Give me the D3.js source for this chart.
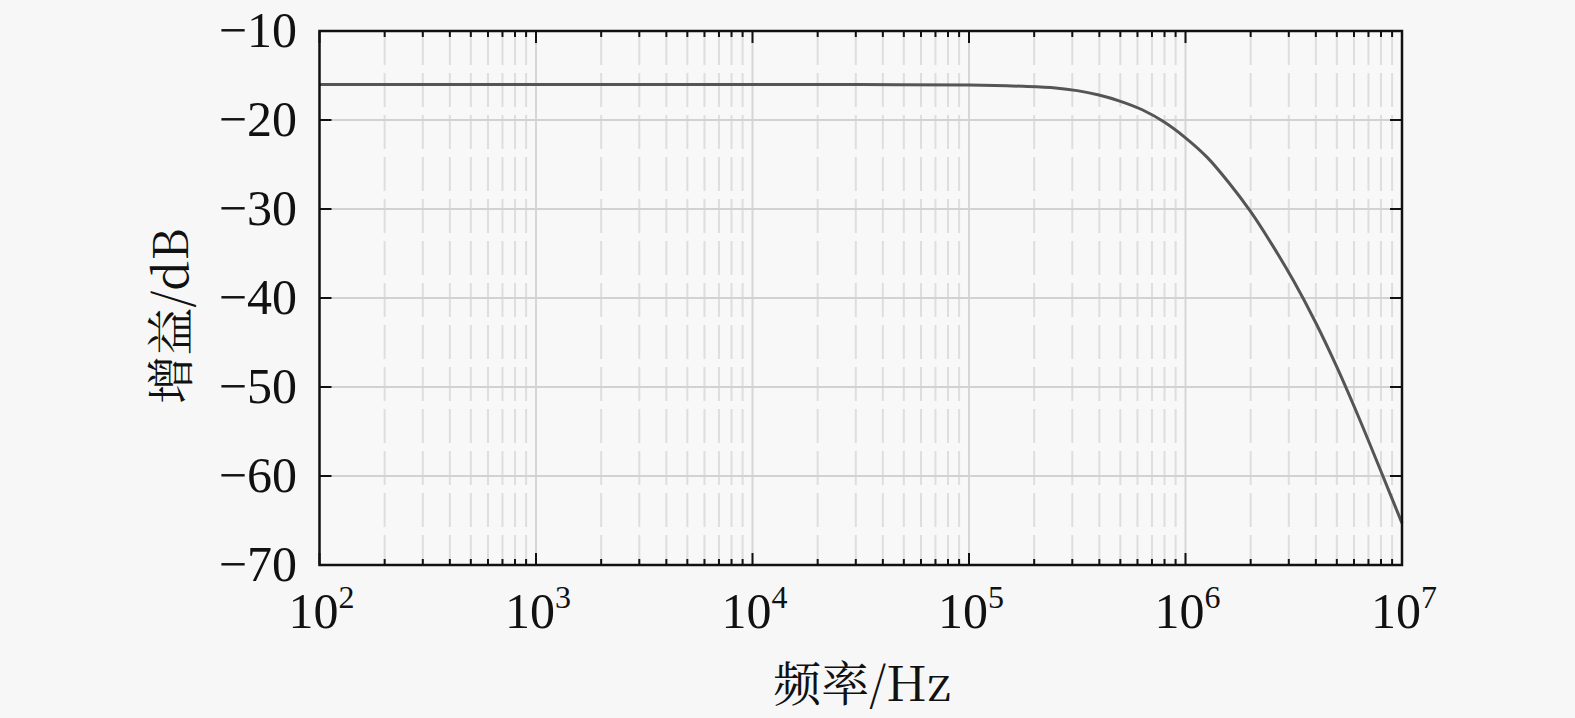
<!DOCTYPE html>
<html><head><meta charset="utf-8">
<script src="https://cdn.jsdelivr.net/npm/d3@7"></script>
<style>
html,body{margin:0;padding:0;background:#f7f7f7;}
svg{display:block;}
</style></head>
<body>
<svg id="chart" width="1575" height="718"></svg>
<script>
// ---- data ----
const freqs = [1e2, 1e3, 1e4, 3.16e4, 1e5, 1.78e5, 2.51e5, 3.16e5, 3.98e5, 5.01e5, 6.31e5, 7.94e5,
               1e6, 1.26e6, 1.58e6, 2e6, 2.51e6, 3.16e6, 3.98e6, 5.01e6, 6.31e6, 7.94e6, 1e7];
const gains = [-16.0, -16.0, -16.0, -16.02, -16.07, -16.22, -16.4, -16.7, -17.2, -17.9, -18.85, -20.2,
               -22.0, -24.2, -27.0, -30.3, -34.0, -38.1, -42.7, -47.8, -53.4, -59.3, -65.3];
const yTicks = [-10, -20, -30, -40, -50, -60, -70];
const xDecades = [1e2, 1e3, 1e4, 1e5, 1e6, 1e7];
const xTickExponents = ["2", "3", "4", "5", "6", "7"];
const xTitle = "频率/Hz";
const yTitle = "增益/dB";

// ---- layout ----
const m = {left: 319.5, right: 1402, top: 31, bottom: 565};
const svg = d3.select("#chart");
const x = d3.scaleLog().domain([1e2, 1e7]).range([m.left, m.right]);
const y = d3.scaleLinear().domain([-70, -10]).range([m.bottom, m.top]);

const minor = [];
for (let d = 0; d < xDecades.length - 1; d++)
  for (let k = 2; k <= 9; k++) minor.push(xDecades[d] * k);

const fontNum = "'Liberation Serif','Times New Roman',serif";
const fontCJK = "'Noto Serif CJK SC','Noto Sans CJK SC','Liberation Serif',serif";

const g = svg.append("g");
g.append("rect").attr("x", m.left).attr("y", m.top)
  .attr("width", m.right - m.left).attr("height", m.bottom - m.top).attr("fill", "#f8f8f8");

// minor vertical grid (dashed)
g.selectAll(".vminor").data(minor).enter().append("line")
  .attr("x1", d => x(d)).attr("x2", d => x(d)).attr("y1", m.top).attr("y2", m.bottom)
  .attr("stroke", "#dedede").attr("stroke-width", 2).attr("stroke-dasharray", "34,8");
// major vertical grid
g.selectAll(".vmajor").data(xDecades.slice(1, -1)).enter().append("line")
  .attr("x1", d => x(d)).attr("x2", d => x(d)).attr("y1", m.top).attr("y2", m.bottom)
  .attr("stroke", "#d6d6d6").attr("stroke-width", 2);
// horizontal grid
g.selectAll(".hgrid").data(yTicks.slice(1, -1)).enter().append("line")
  .attr("x1", m.left).attr("x2", m.right).attr("y1", d => y(d)).attr("y2", d => y(d))
  .attr("stroke", "#d2d2d2").attr("stroke-width", 2);

// curve
const line = d3.line().x((d, i) => x(freqs[i])).y(d => y(d)).curve(d3.curveCatmullRom.alpha(0.5));
g.append("path").datum(gains).attr("d", line)
  .attr("fill", "none").attr("stroke", "#555").attr("stroke-width", 3);

// ticks (inward)
const tk = g.append("g").attr("stroke", "#111").attr("stroke-width", 2);
const majL = 12, minL = 6;
yTicks.forEach(v => {
  tk.append("line").attr("x1", m.left).attr("x2", m.left + majL).attr("y1", y(v)).attr("y2", y(v));
  tk.append("line").attr("x1", m.right).attr("x2", m.right - majL).attr("y1", y(v)).attr("y2", y(v));
});
xDecades.forEach(v => {
  tk.append("line").attr("x1", x(v)).attr("x2", x(v)).attr("y1", m.bottom).attr("y2", m.bottom - majL);
  tk.append("line").attr("x1", x(v)).attr("x2", x(v)).attr("y1", m.top).attr("y2", m.top + majL);
});
minor.forEach(v => {
  tk.append("line").attr("x1", x(v)).attr("x2", x(v)).attr("y1", m.bottom).attr("y2", m.bottom - minL);
  tk.append("line").attr("x1", x(v)).attr("x2", x(v)).attr("y1", m.top).attr("y2", m.top + minL);
});

// frame
g.append("rect").attr("x", m.left).attr("y", m.top)
  .attr("width", m.right - m.left).attr("height", m.bottom - m.top)
  .attr("fill", "none").attr("stroke", "#111").attr("stroke-width", 2.5);

// y tick labels
g.selectAll(".ylab").data(yTicks).enter().append("text")
  .attr("x", 297).attr("y", d => y(d) + 16)
  .attr("text-anchor", "end").attr("font-family", fontNum).attr("font-size", 50).attr("fill", "#111")
  .text(d => "\u2212" + Math.abs(d));

// x tick labels
xDecades.forEach((v, i) => {
  const t = g.append("text").attr("x", x(v) + 2).attr("y", 628)
    .attr("text-anchor", "middle").attr("font-family", fontNum).attr("font-size", 50).attr("fill", "#111");
  t.append("tspan").text("10");
  t.append("tspan").attr("font-size", 32).attr("dy", -20).text(xTickExponents[i]);
});

// axis titles
g.append("text").attr("x", 862).attr("y", 701).attr("text-anchor", "middle")
  .attr("font-family", fontCJK).attr("font-size", 48).attr("fill", "#111").text(xTitle);
g.append("text").attr("transform", "translate(188,316) rotate(-90)").attr("text-anchor", "middle")
  .attr("font-family", fontCJK).attr("font-size", 48).attr("fill", "#111").text(yTitle);
</script>
</body></html>
